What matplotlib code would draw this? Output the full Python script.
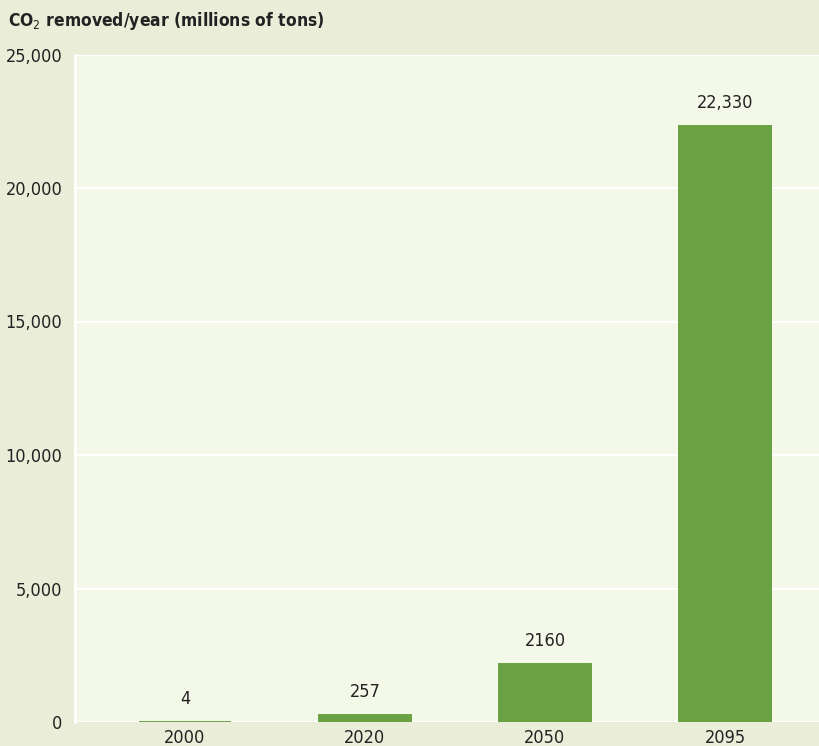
import matplotlib
matplotlib.use("Agg")
import matplotlib.pyplot as plt

years = ["2000", "2020", "2050", "2095"]
removed = [4, 257, 2160, 22330]
labels = ["4", "257", "2160", "22,330"]
yticks = [0, 5000, 10000, 15000, 20000, 25000]
ytick_labels = ["0", "5,000", "10,000", "15,000", "20,000", "25,000"]

OUTER = "#eaedd8"; INNER = "#f4f8e9"; GREEN = "#6aa142"; INK = "#222222"
plt.rcParams["font.family"] = ["DejaVu Sans"]
plt.rcParams["font.stretch"] = "condensed"

fig = plt.figure(figsize=(8.2, 7.46), dpi=100, facecolor=OUTER)
ax = fig.add_axes([75 / 820, 1 - 722 / 746, 745 / 820, (722 - 54.5) / 746])
ax.set_facecolor(INNER)

x = list(range(len(years)))
ax.bar(x, removed, width=0.51, color=GREEN, edgecolor=GREEN, linewidth=1.4, zorder=3)
for xi, v, lab in zip(x, removed, labels):
    ax.annotate(lab, (xi, v), xytext=(0, 10), textcoords="offset points",
                ha="center", va="bottom", fontsize=13, color=INK)

ax.set_xlim(-0.611, 3.528)
ax.set_ylim(0, 25000)
ax.set_yticks(yticks)
ax.set_yticklabels(ytick_labels)
ax.set_xticks(x)
ax.set_xticklabels(years)
ax.grid(axis="y", color="white", lw=1.5, zorder=1)
for s in ["top", "right", "bottom"]:
    ax.spines[s].set_visible(False)
ax.spines["left"].set_color("white")
ax.spines["left"].set_linewidth(2)
ax.tick_params(length=0, labelsize=13, colors=INK)
ax.tick_params(axis="x", pad=5)
ax.tick_params(axis="y", pad=9)

fig.text(8 / 820, 1 - 21 / 746, "CO$_2$ removed/year (millions of tons)", fontsize=12.5,
         fontweight="bold", color=INK, va="center", ha="left")

fig.savefig("out.png", dpi=100, facecolor=OUTER)
